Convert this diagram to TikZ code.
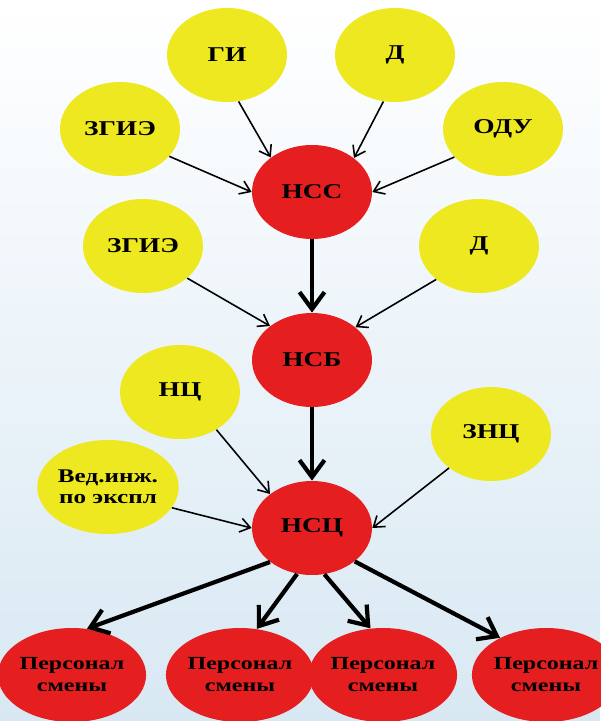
\documentclass[tikz,border=0pt]{standalone}
\usepackage{fontspec}
\setmainfont{Liberation Serif}[FakeStretch=1.3]
\usetikzlibrary{arrows.meta,shapes.geometric}
\definecolor{nodeyellow}{RGB}{238,232,32}
\definecolor{nodered}{RGB}{229,30,32}
\definecolor{bgblue}{RGB}{216,232,243}

\begin{document}
\begin{tikzpicture}[x=0.02cm, y=-0.02cm,
    every node/.style={ellipse, inner sep=0pt, minimum width=2.4cm, minimum height=1.88cm,
      font=\bfseries\fontsize{12}{13}\selectfont},
    aide/.style={fill=nodeyellow},
    chief/.style={fill=nodered},
    staff/.style={fill=nodered, align=center, font=\bfseries\fontsize{10.5}{12.5}\selectfont},
    thin/.style={-{Straight Barb[length=2mm,width=2.8mm]}, line width=0.9pt},
    thick/.style={-{Straight Barb[length=3.4mm,width=5mm]}, line width=2.4pt}]
      \shade[top color=white, bottom color=bgblue] (0,0) rectangle (600,721);
      \useasboundingbox (0,0) rectangle (600,721);
      \node[aide] (gi) at (227, 55) {ГИ};
      \node[aide] (d1) at (395, 55) {Д};
      \node[aide] (zgie1) at (120, 129) {ЗГИЭ};
      \node[aide] (odu) at (503, 129) {ОДУ};
      \node[chief] (nss) at (312, 192) {НСС};
      \node[aide] (zgie2) at (143, 246) {ЗГИЭ};
      \node[aide] (d2) at (479, 246) {Д};
      \node[chief] (nsb) at (312, 360) {НСБ};
      \node[aide] (nc) at (180, 392) {НЦ};
      \node[aide] (znc) at (491, 434) {ЗНЦ};
      \node[aide, align=center, font=\bfseries\fontsize{11}{12}\selectfont] (ved) at (108, 487) {Вед.инж.\\по экспл};
      \node[chief] (nsc) at (312, 528) {НСЦ};
      \node[staff] (p1) at (72, 675) {Персонал\\смены};
      \node[staff] (p2) at (240, 675) {Персонал\\смены};
      \node[staff] (p3) at (383, 675) {Персонал\\смены};
      \node[staff] (p4) at (546, 675) {Персонал\\смены};
      \draw[thin] (gi.-76) -- (nss.140);
      \draw[thin] (d1.-104) -- (nss.39);
      \draw[thin] (zgie1.-29) -- (nss.180);
      \draw[thin] (odu.210) -- (nss.0);
      \draw[thin] (zgie2.-36) -- (nsb.141);
      \draw[thin] (d2.218) -- (nsb.37);
      \draw[thin] (nc.-46) -- (nsc.141);
      \draw[thin] (znc.219) -- (nsc.0);
      \draw[thin] (ved.-18) -- (nsc.180);
      \draw[thick] (nss) -- (nsb);
      \draw[thick] (nsb) -- (nsc);
      \draw[thick] (nsc.219) -- (p1.72);
      \draw[thick] (nsc.252) -- (p2.70);
      \draw[thick] (nsc.-75) -- (p3.105);
      \draw[thick] (nsc.-38) -- (p4.141);
    \end{tikzpicture}
\end{document}
